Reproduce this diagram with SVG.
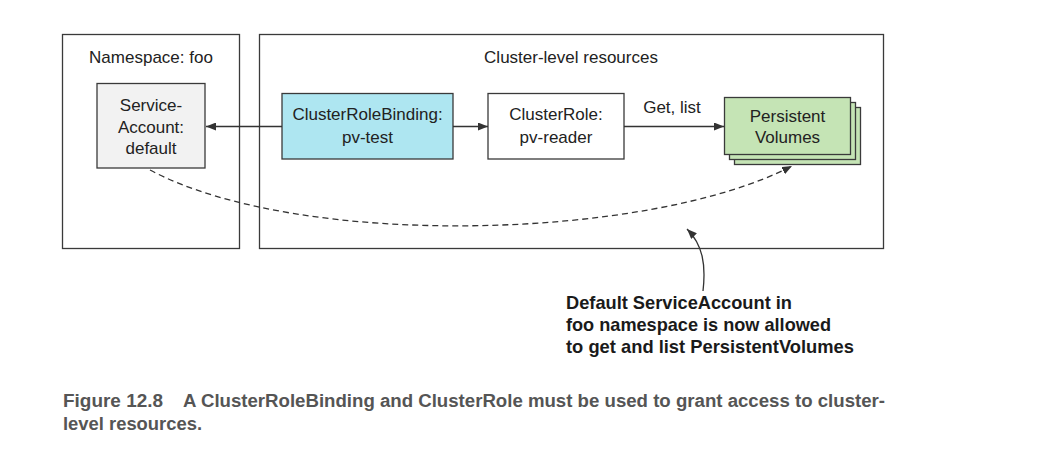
<svg xmlns="http://www.w3.org/2000/svg" width="1053" height="451" viewBox="0 0 1053 451">
<defs>
<style>
.box{stroke:#3a3a3a;stroke-width:1.3}
.t{font-family:"Liberation Sans",Arial,sans-serif;font-size:17px;fill:#222;text-anchor:middle}
.conn{stroke:#333;stroke-width:1.3;fill:none}
.call{font-family:"Liberation Sans",Arial,sans-serif;font-weight:bold;font-size:18.5px;fill:#1a1a1a}
.cap{font-family:"Liberation Sans",Arial,sans-serif;font-weight:bold;font-size:17.5px;fill:#555}
</style>
<marker id="ah" viewBox="0 0 10 8" refX="10" refY="4" markerWidth="10" markerHeight="8" markerUnits="userSpaceOnUse" orient="auto">
<path d="M0,0 L10,4 L0,8 Z" fill="#333"/>
</marker>
</defs>
<rect width="1053" height="451" fill="#fff"/>
<g id="namespace-foo">
<rect class="box" x="62.5" y="34.5" width="177" height="214" fill="none"/>
<text class="t" x="151" y="63">Namespace: foo</text>
</g>
<g id="cluster-level">
<rect class="box" x="259.5" y="34.5" width="624" height="214" fill="none"/>
<text class="t" x="571" y="63">Cluster-level resources</text>
</g>
<g id="serviceaccount">
<rect class="box" x="97" y="83.5" width="108" height="84.5" fill="#f2f2f2"/>
<text class="t" x="151" y="111">Service-</text>
<text class="t" x="151" y="132.5">Account:</text>
<text class="t" x="151" y="154">default</text>
</g>
<g id="clusterrolebinding">
<rect class="box" x="282" y="93.5" width="171" height="65.5" fill="#aee6f1"/>
<text class="t" x="367.5" y="120">ClusterRoleBinding:</text>
<text class="t" x="367.5" y="142.5">pv-test</text>
</g>
<g id="clusterrole">
<rect class="box" x="488" y="93.5" width="136" height="65.5" fill="#fff"/>
<text class="t" x="556" y="120">ClusterRole:</text>
<text class="t" x="556" y="142.5">pv-reader</text>
</g>
<g id="persistentvolumes">
<rect class="box" x="734.5" y="107.5" width="126" height="57" fill="#c5e4b5"/>
<rect class="box" x="729.5" y="102.5" width="126" height="57" fill="#c5e4b5"/>
<rect class="box" x="724.5" y="97.5" width="126" height="57" fill="#c5e4b5"/>
<text class="t" x="787.5" y="121.5">Persistent</text>
<text class="t" x="787.5" y="143">Volumes</text>
</g>
<g id="connectors">
<line class="conn" x1="282" y1="126.5" x2="206" y2="126.5" marker-end="url(#ah)"/>
<line class="conn" x1="453" y1="126.5" x2="488" y2="126.5" marker-end="url(#ah)"/>
<line class="conn" x1="624" y1="126.5" x2="724" y2="126.5" marker-end="url(#ah)"/>
<text class="t" x="672" y="113">Get, list</text>
<path class="conn" d="M150,170 C300,250 650,240 792,166" stroke-dasharray="6,4" marker-end="url(#ah)"/>
<path class="conn" d="M703,291 C706,265 703,245 687,229" marker-end="url(#ah)"/>
</g>
<g id="callout">
<text class="call" x="566" y="309" textLength="226" lengthAdjust="spacingAndGlyphs">Default ServiceAccount in</text>
<text class="call" x="566" y="331" textLength="265" lengthAdjust="spacingAndGlyphs">foo namespace is now allowed</text>
<text class="call" x="566" y="353" textLength="288" lengthAdjust="spacingAndGlyphs">to get and list PersistentVolumes</text>
</g>
<g id="caption">
<text class="cap" x="63" y="407" textLength="100" lengthAdjust="spacingAndGlyphs">Figure 12.8</text>
<text class="cap" x="183" y="407" textLength="702" lengthAdjust="spacingAndGlyphs">A ClusterRoleBinding and ClusterRole must be used to grant access to cluster-</text>
<text class="cap" x="63" y="430" textLength="139" lengthAdjust="spacingAndGlyphs">level resources.</text>
</g>
</svg>
